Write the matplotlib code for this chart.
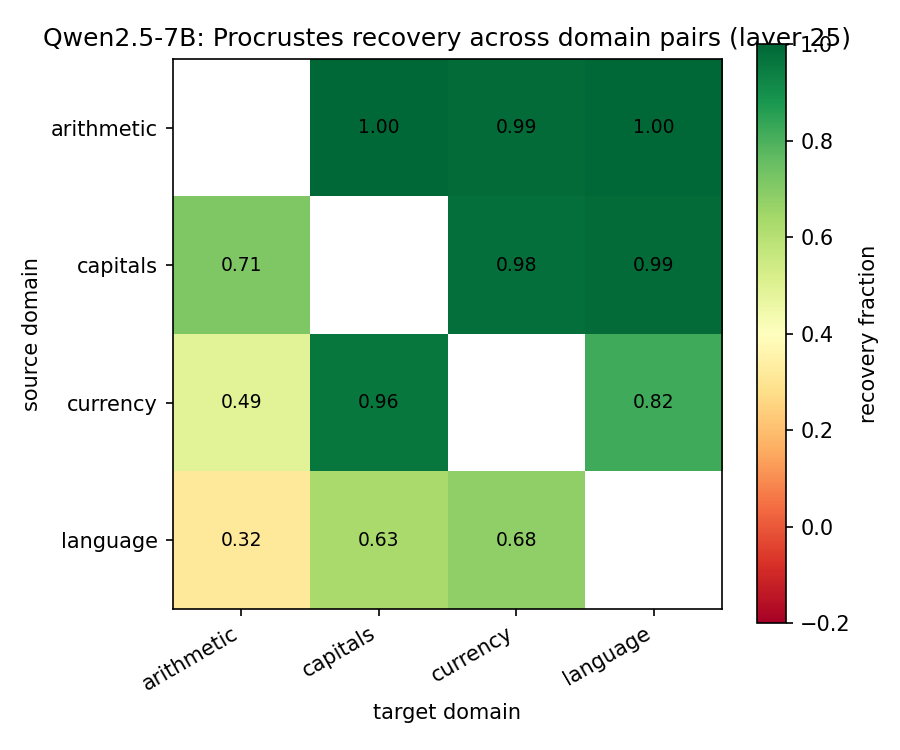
import numpy as np
import matplotlib.pyplot as plt

domains = ["arithmetic", "capitals", "currency", "language"]
# rows = source domain, cols = target domain (diagonal left empty)
recovery = np.array([
    [np.nan, 1.00, 0.99, 1.00],
    [0.71, np.nan, 0.98, 0.99],
    [0.49, 0.96, np.nan, 0.82],
    [0.32, 0.63, 0.68, np.nan],
])

fig, ax = plt.subplots(figsize=(6, 5), dpi=150)
im = ax.imshow(recovery, cmap="RdYlGn", vmin=-0.2, vmax=1.0)

ax.set_xticks(range(len(domains)))
ax.set_xticklabels(domains, rotation=30, ha="right")
ax.set_yticks(range(len(domains)))
ax.set_yticklabels(domains)
ax.set_xlabel("target domain")
ax.set_ylabel("source domain")
ax.set_title("Qwen2.5-7B: Procrustes recovery across domain pairs (layer 25)")

for i in range(len(domains)):
    for j in range(len(domains)):
        if not np.isnan(recovery[i, j]):
            ax.text(j, i, f"{recovery[i, j]:.2f}", ha="center", va="center",
                    fontsize=9, color="black")

cbar = fig.colorbar(im, ax=ax)
cbar.set_label("recovery fraction")

plt.tight_layout()
plt.savefig("out.png", dpi=150)
